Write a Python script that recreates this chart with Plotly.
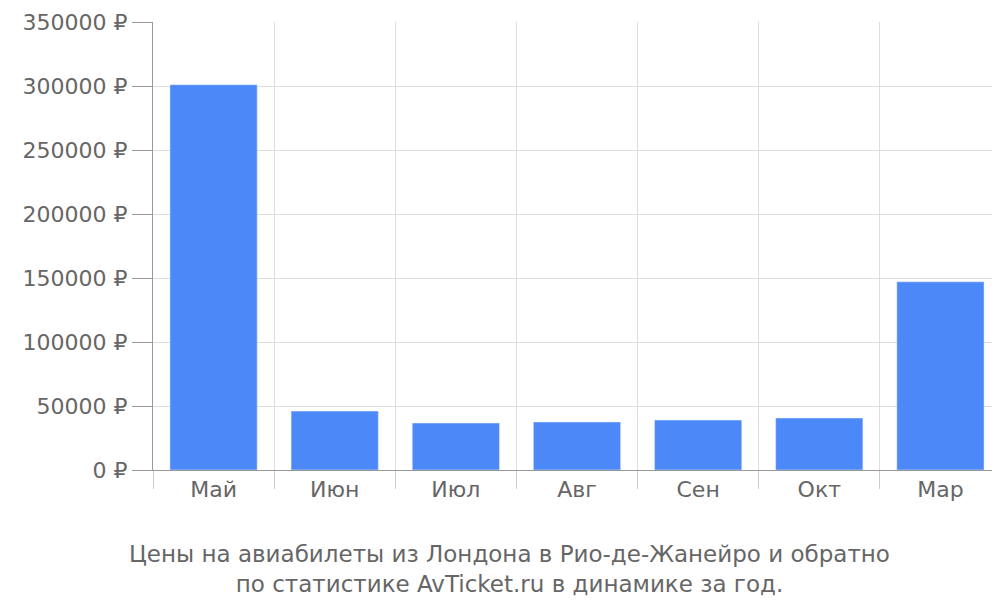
import plotly.graph_objects as go

months = ["Май", "Июн", "Июл", "Авг", "Сен", "Окт", "Мар"]
prices = [301000, 46000, 36700, 37500, 39000, 40600, 147000]
y_ticks = [0, 50000, 100000, 150000, 200000, 250000, 300000, 350000]
y_labels = [f"{v} ₽" for v in y_ticks]

fig = go.Figure(go.Bar(x=months, y=prices, marker_color="#4d88f9", width=0.72))

grey = "#666666"
fig.update_layout(
    width=1000, height=600,
    margin=dict(l=145, r=7, t=14, b=138, autoexpand=False),
    plot_bgcolor="white", paper_bgcolor="white",
    font=dict(family="DejaVu Sans", size=22, color=grey),
    showlegend=False,
    bargap=0.28,
)
fig.update_xaxes(
    tickson="boundaries", showgrid=True, gridcolor="#dddddd",
    ticks="outside", ticklen=18, tickcolor="#cccccc",
    showline=True, linecolor="#999999", automargin=False,
)
fig.update_yaxes(
    range=[0, 350000], tickvals=y_ticks, ticktext=y_labels,
    gridcolor="#dddddd", showline=True, linecolor="#999999",
    ticks="outside", ticklen=20, tickcolor="#999999", zeroline=False,
    automargin=False,
)
fig.add_annotation(
    text="Цены на авиабилеты из Лондона в Рио-де-Жанейро и обратно<br>по статистике AvTicket.ru в динамике за год.",
    xref="paper", yref="paper", x=0.42, y=-0.155, yanchor="top",
    showarrow=False, font=dict(size=23, color=grey),
)
fig.write_html("out.html")
